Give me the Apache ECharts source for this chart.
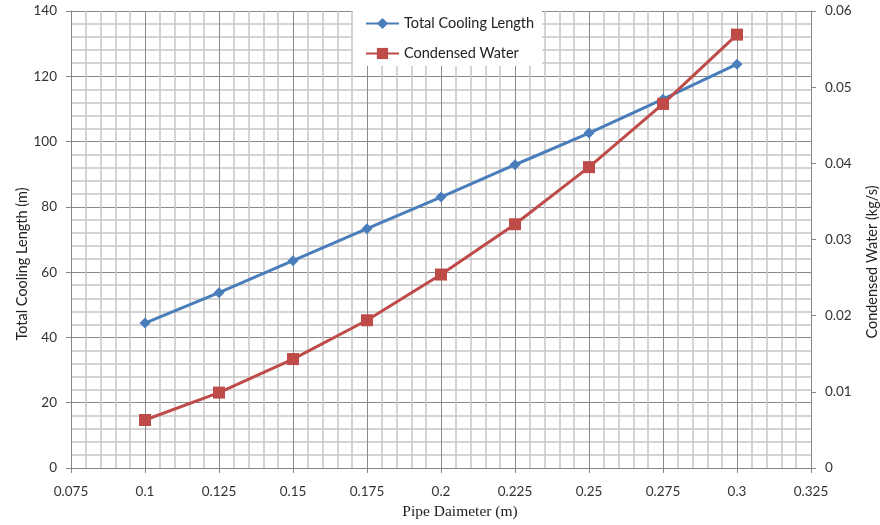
<!DOCTYPE html>
<html>
<head>
<meta charset="utf-8">
<script src="https://cdn.jsdelivr.net/npm/echarts@6/dist/echarts.min.js"></script>
<style>html,body{margin:0;padding:0;background:#fff}#c{width:880px;height:525px}</style>
</head>
<body>
<div id="c"></div>
<script>
const xTickLabels = ['0.075','0.1','0.125','0.15','0.175','0.2','0.225','0.25','0.275','0.3','0.325'];
const diameters = [0.1, 0.125, 0.15, 0.175, 0.2, 0.225, 0.25, 0.275, 0.3];
const coolingLength = [44.4, 53.7, 63.5, 73.3, 83.0, 92.9, 102.6, 113.0, 123.7];
const condensedWater = [0.0063, 0.0099, 0.0143, 0.0194, 0.0254, 0.0320, 0.0395, 0.0478, 0.0569];
const seriesNames = ['Total Cooling Length', 'Condensed Water'];

const chart = echarts.init(document.getElementById('c'));
const labelFont = {fontFamily: 'Lato', fontSize: 13.5, color: '#333'};
chart.setOption({
  animation: false,
  backgroundColor: '#fff',
  grid: {left: 71, right: 69, top: 11, bottom: 57, containLabel: false},
  legend: {
    left: 353, top: 11, orient: 'vertical',
    backgroundColor: '#fff',
    padding: [5, 8, 5, 12],
    itemWidth: 33, itemHeight: 14, itemGap: 15,
    textStyle: {fontFamily: 'Lato', fontSize: 14.5, color: '#222'},
    data: seriesNames
  },
  xAxis: {
    type: 'value', min: 0.075, max: 0.325, interval: 0.025,
    axisLine: {show: true, lineStyle: {color: '#868686', width: 1}},
    axisTick: {show: true, length: 5, lineStyle: {color: '#868686'}},
    axisLabel: Object.assign({margin: 17, formatter: v => {
      const i = Math.round((v - 0.075) / 0.025);
      return xTickLabels[i] !== undefined ? xTickLabels[i] : '';
    }}, labelFont),
    splitLine: {show: true, lineStyle: {color: '#8a8a8a', width: 1}},
    minorTick: {show: false, splitNumber: 5},
    minorSplitLine: {show: true, lineStyle: {color: '#c6c6c6', width: 1.5}}
  },
  yAxis: [
    {
      type: 'value', min: 0, max: 140, interval: 20, position: 'left',
      axisLine: {show: true, lineStyle: {color: '#868686'}},
      axisTick: {show: true, length: 5, lineStyle: {color: '#868686'}},
      axisLabel: Object.assign({margin: 14}, labelFont),
      splitLine: {show: true, lineStyle: {color: '#8a8a8a', width: 1}},
      minorTick: {show: false, splitNumber: 5},
      minorSplitLine: {show: true, lineStyle: {color: '#c6c6c6', width: 1.5}}
    },
    {
      type: 'value', min: 0, max: 0.06, interval: 0.01, position: 'right',
      axisLine: {show: true, lineStyle: {color: '#868686'}},
      axisTick: {show: true, length: 5, lineStyle: {color: '#868686'}},
      axisLabel: Object.assign({margin: 14, formatter: v => String(+v.toFixed(2))}, labelFont),
      splitLine: {show: false}
    }
  ],
  graphic: [
    {type: 'text', x: 460, y: 512, style: {text: 'Pipe Daimeter (m)', font: '15.5px "Liberation Serif"', fill: '#222', textAlign: 'center', textVerticalAlign: 'middle'}},
    {type: 'text', x: 22, y: 264, rotation: Math.PI / 2, style: {text: 'Total Cooling Length (m)', font: '14.5px Lato', fill: '#222', textAlign: 'center', textVerticalAlign: 'middle'}},
    {type: 'text', x: 872, y: 262, rotation: Math.PI / 2, style: {text: 'Condensed Water (kg/s)', font: '14.5px Lato', fill: '#222', textAlign: 'center', textVerticalAlign: 'middle'}}
  ],
  series: [
    {
      name: seriesNames[0], type: 'line', yAxisIndex: 0,
      data: diameters.map((d, i) => [d, coolingLength[i]]),
      symbol: 'diamond', symbolSize: 11,
      lineStyle: {color: '#4a7ebb', width: 3},
      itemStyle: {color: '#4a7ebb'}, z: 3
    },
    {
      name: seriesNames[1], type: 'line', yAxisIndex: 1,
      data: diameters.map((d, i) => [d, condensedWater[i]]),
      symbol: 'rect', symbolSize: 12,
      lineStyle: {color: '#be4b48', width: 3},
      itemStyle: {color: '#be4b48'}, z: 4
    }
  ]
});
</script>
</body>
</html>
